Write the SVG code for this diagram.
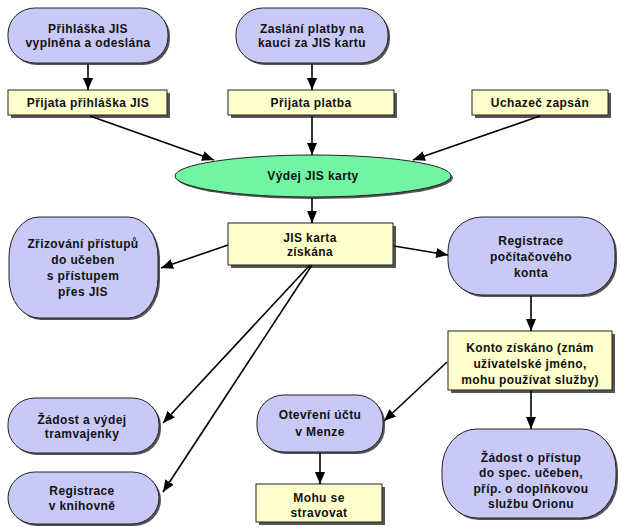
<svg xmlns="http://www.w3.org/2000/svg" width="621" height="527" viewBox="0 0 621 527">
<defs>
<marker id="ah" viewBox="0 0 12 10" refX="12" refY="5" markerWidth="12" markerHeight="10" markerUnits="userSpaceOnUse" orient="auto">
<path d="M0,0 L12,5 L0,10 z" fill="#000"/>
</marker>
<style>
.t{font-family:"Liberation Sans",Arial,sans-serif;font-weight:bold;font-size:12px;letter-spacing:0.4px;fill:#111;text-anchor:middle}
.p{fill:#c9c9f8;stroke:#222;stroke-width:1}
.r{fill:#ffffcc;stroke:#222;stroke-width:1}
.e{fill:#72f5a2;stroke:#222;stroke-width:1}
.s{fill:#555}
.c line{stroke:#000;stroke-width:1.6;marker-end:url(#ah)}
</style>
</defs>
<rect width="621" height="527" fill="#fff"/>

<g id="n_prihlaska">
<rect class="s" x="10" y="10" width="160" height="55" rx="27" ry="26"/>
<rect class="p" x="8" y="8" width="160" height="55" rx="27" ry="26"/>
<text class="t" x="88" y="33">Přihláška JIS</text>
<text class="t" x="88" y="47">vyplněna a odeslána</text>
</g>
<g id="n_platba_kauce">
<rect class="s" x="238" y="10" width="152" height="55" rx="27" ry="26"/>
<rect class="p" x="236" y="8" width="152" height="55" rx="27" ry="26"/>
<text class="t" x="312" y="33">Zaslání platby na</text>
<text class="t" x="312" y="47">kauci za JIS kartu</text>
</g>
<g id="n_prijata_prihlaska">
<rect class="s" x="11" y="93" width="159" height="25"/>
<rect class="r" x="8" y="90" width="159" height="25"/>
<text class="t" x="88" y="107">Přijata přihláška JIS</text>
</g>
<g id="n_prijata_platba">
<rect class="s" x="231" y="93" width="166" height="25"/>
<rect class="r" x="228" y="90" width="166" height="25"/>
<text class="t" x="311" y="107">Přijata platba</text>
</g>
<g id="n_uchazec">
<rect class="s" x="475" y="93" width="136" height="25"/>
<rect class="r" x="472" y="90" width="136" height="25"/>
<text class="t" x="540" y="107">Uchazeč zapsán</text>
</g>
<g id="n_vydej">
<ellipse class="s" cx="315" cy="178" rx="138" ry="21"/>
<ellipse class="e" cx="313" cy="176" rx="138" ry="21"/>
<text class="t" x="313" y="180">Výdej JIS karty</text>
</g>
<g id="n_jis_ziskana">
<rect class="s" x="231" y="226" width="165" height="42"/>
<rect class="r" x="228" y="223" width="165" height="42"/>
<text class="t" x="310" y="242">JIS karta</text>
<text class="t" x="310" y="256">získána</text>
</g>
<g id="n_zrizovani">
<rect class="s" x="11" y="219" width="149" height="101" rx="30" ry="40"/>
<rect class="p" x="9" y="217" width="149" height="101" rx="30" ry="40"/>
<text class="t" x="83" y="248">Zřizování přístupů</text>
<text class="t" x="83" y="264">do učeben</text>
<text class="t" x="83" y="280">s přístupem</text>
<text class="t" x="83" y="296">přes JIS</text>
</g>
<g id="n_registrace_konta">
<rect class="s" x="450" y="219" width="167" height="78" rx="34" ry="34"/>
<rect class="p" x="448" y="217" width="167" height="78" rx="34" ry="34"/>
<text class="t" x="531" y="245">Registrace</text>
<text class="t" x="531" y="261">počítačového</text>
<text class="t" x="531" y="277">konta</text>
</g>
<g id="n_konto">
<rect class="s" x="451" y="334" width="164" height="59"/>
<rect class="r" x="448" y="331" width="164" height="59"/>
<text class="t" x="530" y="352">Konto získáno (znám</text>
<text class="t" x="530" y="368">uživatelské jméno,</text>
<text class="t" x="530" y="384">mohu používat služby)</text>
</g>
<g id="n_tramvajenka">
<rect class="s" x="10" y="400" width="151" height="55" rx="27" ry="26"/>
<rect class="p" x="8" y="398" width="151" height="55" rx="27" ry="26"/>
<text class="t" x="82" y="424">Žádost a výdej</text>
<text class="t" x="82" y="438">tramvajenky</text>
</g>
<g id="n_knihovna">
<rect class="s" x="10" y="474" width="151" height="52" rx="27" ry="26"/>
<rect class="p" x="8" y="472" width="151" height="52" rx="27" ry="26"/>
<text class="t" x="82" y="495">Registrace</text>
<text class="t" x="82" y="510">v knihovně</text>
</g>
<g id="n_menza">
<rect class="s" x="259" y="397" width="126" height="57" rx="27" ry="26"/>
<rect class="p" x="257" y="395" width="126" height="57" rx="27" ry="26"/>
<text class="t" x="320" y="419">Otevření účtu</text>
<text class="t" x="320" y="436">v Menze</text>
</g>
<g id="n_stravovat">
<rect class="s" x="259" y="487" width="126" height="38"/>
<rect class="r" x="256" y="484" width="126" height="38"/>
<text class="t" x="319" y="502">Mohu se</text>
<text class="t" x="319" y="517">stravovat</text>
</g>
<g id="n_specialni">
<rect class="s" x="444" y="431" width="174" height="89" rx="35" ry="40"/>
<rect class="p" x="442" y="429" width="174" height="89" rx="35" ry="40"/>
<text class="t" x="531" y="462">Žádost o přístup</text>
<text class="t" x="531" y="477">do spec. učeben,</text>
<text class="t" x="531" y="493">příp. o doplňkovou</text>
<text class="t" x="531" y="508">službu Orionu</text>
</g>

<g id="connectors" class="c">
<line x1="88" y1="64" x2="88" y2="90"/>
<line x1="312" y1="64" x2="312" y2="90"/>
<line x1="90" y1="116" x2="214" y2="160"/>
<line x1="312" y1="116" x2="312" y2="155"/>
<line x1="540" y1="116" x2="413" y2="160"/>
<line x1="312" y1="198" x2="312" y2="223"/>
<line x1="228" y1="245" x2="161" y2="268"/>
<line x1="394" y1="246" x2="448" y2="255"/>
<line x1="310" y1="265" x2="163" y2="423"/>
<line x1="312" y1="265" x2="163" y2="492"/>
<line x1="531" y1="296" x2="531" y2="331"/>
<line x1="447" y1="362" x2="384" y2="421"/>
<line x1="531" y1="391" x2="531" y2="429"/>
<line x1="320" y1="453" x2="320" y2="484"/>
</g>
</svg>
